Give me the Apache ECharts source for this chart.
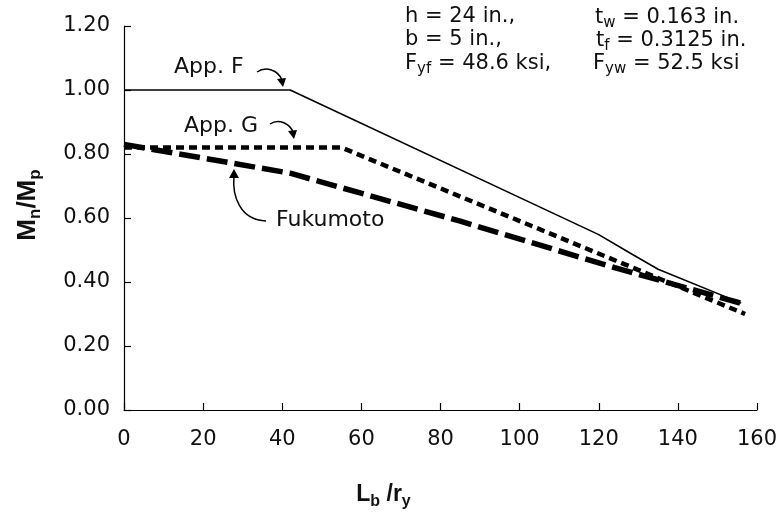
<!DOCTYPE html>
<html>
<head>
<meta charset="utf-8">
<script src="https://cdn.jsdelivr.net/npm/echarts@6/dist/echarts.min.js"></script>
<style>
  html, body { margin: 0; padding: 0; background: #fff; }
  #main { width: 781px; height: 518px; }
</style>
</head>
<body>
<div id="main"></div>
<script>
// values, [Lb/ry, Mn/Mp]
var appF = [[0, 1.0], [42, 1.0], [120, 0.548], [128, 0.49], [135, 0.44], [156, 0.334]];
var appG = [[0, 0.82], [55, 0.82], [157, 0.30]];
var fukumoto = [[0, 0.83], [42, 0.74], [85, 0.59], [124, 0.445], [157, 0.33]];
var xTicks = [0, 20, 40, 60, 80, 100, 120, 140, 160];
var yTicks = [0, 0.2, 0.4, 0.6, 0.8, 1.0, 1.2];

var FONT = "'DejaVu Sans', sans-serif";
var NAMEFONT = "'Liberation Sans', Arial, sans-serif";
var INK = '#111';

var myChart = echarts.init(document.getElementById('main'));

// rich text: normal + subscript
var txt = { fontSize: 21, fontFamily: FONT, color: INK, lineHeight: 26, verticalAlign: 'middle' };
var sub = { fontSize: 15, fontFamily: FONT, color: INK, lineHeight: 27, verticalAlign: 'bottom' };
var big = { fontSize: 22, fontFamily: FONT, color: INK, lineHeight: 26, verticalAlign: 'middle' };

function note(x, y, str) {
  return {
    type: 'text', x: x, y: y,
    style: { text: str, rich: { n: txt, s: sub, g: big }, font: '21px ' + FONT, fill: INK }
  };
}
function arrow(x1, y1, cx1, cy1, cx2, cy2, x2, y2, head) {
  return [
    {
      type: 'bezierCurve',
      shape: { x1: x1, y1: y1, cpx1: cx1, cpy1: cy1, cpx2: cx2, cpy2: cy2, x2: x2, y2: y2 },
      style: { stroke: '#000', lineWidth: 1.5, fill: null }
    },
    { type: 'polygon', shape: { points: head }, style: { fill: '#000' } }
  ];
}

var graphics = [
  note(405, 4, '{n|h = 24 in.,}'),
  note(405, 27, '{n|b = 5 in.,}'),
  note(405, 50, '{n|F}{s|yf}{n| = 48.6 ksi,}'),
  note(595, 4, '{n|t}{s|w}{n| = 0.163 in.}'),
  note(596, 27, '{n|t}{s|f}{n| = 0.3125 in.}'),
  note(593, 50, '{n|F}{s|yw}{n| = 52.5 ksi}'),
  note(174, 54, '{g|App. F}'),
  note(184, 113, '{g|App. G}'),
  note(276, 207, '{g|Fukumoto}')
];
graphics = graphics.concat(
  arrow(257, 72, 266, 66, 278, 70, 282, 80, [[277, 79], [286, 78], [283, 87]]),
  arrow(270, 124, 279, 118, 290, 124, 293, 132, [[288, 131], [297, 130], [294, 139]]),
  arrow(266, 221, 240, 220, 232, 196, 234, 176, [[229, 178], [239, 178], [234, 169]])
);

var option = {
  backgroundColor: '#fff',
  animation: false,
  grid: { left: 124, right: 24, top: 26, bottom: 108 },
  xAxis: {
    type: 'value',
    min: xTicks[0],
    max: xTicks[xTicks.length - 1],
    interval: 20,
    name: '{a|L}{b|b}{a| /r}{b|y}',
    nameLocation: 'middle',
    nameGap: 70,
    nameTextStyle: {
      padding: [0, 114, 0, 0],
      rich: {
        a: { fontSize: 23, fontWeight: 'bold', fontFamily: NAMEFONT, color: INK, lineHeight: 30, verticalAlign: 'middle' },
        b: { fontSize: 16, fontWeight: 'bold', fontFamily: NAMEFONT, color: INK, lineHeight: 30, verticalAlign: 'bottom' }
      }
    },
    axisLine: { lineStyle: { color: '#000', width: 1.2 } },
    axisTick: { inside: true, length: 7, lineStyle: { color: '#000', width: 1.2 } },
    axisLabel: { fontSize: 21, fontFamily: FONT, color: INK, margin: 19 },
    splitLine: { show: false }
  },
  yAxis: {
    type: 'value',
    min: yTicks[0],
    max: yTicks[yTicks.length - 1],
    interval: 0.2,
    name: '{a|M}{b|n}{a|/M}{b|p}',
    nameLocation: 'middle',
    nameRotate: 90,
    nameGap: 80,
    nameTextStyle: {
      padding: [0, 0, 0, 26],
      rich: {
        a: { fontSize: 26, fontWeight: 'bold', fontFamily: NAMEFONT, color: INK, lineHeight: 32, verticalAlign: 'middle' },
        b: { fontSize: 17, fontWeight: 'bold', fontFamily: NAMEFONT, color: INK, lineHeight: 32, verticalAlign: 'bottom' }
      }
    },
    axisLine: { show: true, lineStyle: { color: '#000', width: 1.2 } },
    axisTick: { show: true, inside: true, length: 7, lineStyle: { color: '#000', width: 1.2 } },
    axisLabel: {
      fontSize: 21, fontFamily: FONT, color: INK, margin: 14,
      formatter: function (v) { return v.toFixed(2); }
    },
    splitLine: { show: false }
  },
  series: [
    {
      name: 'App. F', type: 'line', data: appF, symbol: 'none', z: 2,
      lineStyle: { color: '#000', width: 1.6 }
    },
    {
      name: 'App. G', type: 'line', data: appG, symbol: 'none', z: 3,
      lineStyle: { color: '#000', width: 4.5, type: [8, 5] }
    },
    {
      name: 'Fukumoto', type: 'line', data: fukumoto, symbol: 'none', z: 4,
      lineStyle: { color: '#000', width: 5.5, type: [21, 7] }
    }
  ],
  graphic: graphics
};

myChart.setOption(option);
</script>
</body>
</html>
